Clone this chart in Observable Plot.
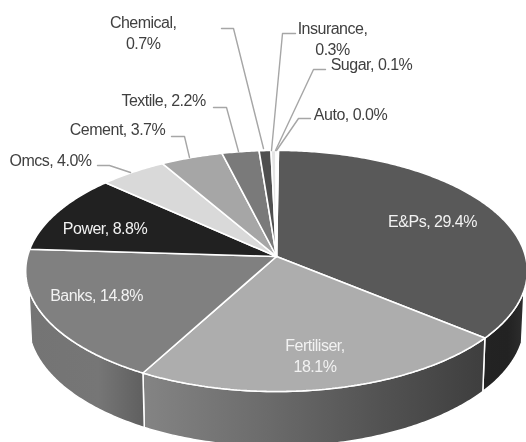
<!DOCTYPE html>
<html>
<head>
<meta charset="utf-8">
<script src="https://cdn.jsdelivr.net/npm/d3@7"></script>
<script src="https://cdn.jsdelivr.net/npm/@observablehq/plot@0.6"></script>
<style>
html,body{margin:0;padding:0;background:#fff;overflow:hidden}
svg{display:block}
</style>
</head>
<body>
<div id="chart"></div>
<script>
// Data
const sectors = ["E&Ps","Fertiliser","Banks","Power","Omcs","Cement","Textile","Chemical","Insurance","Sugar","Auto"];
const shares  = [29.4,18.1,14.8,8.8,4.0,3.7,2.2,0.7,0.3,0.1,0.04];
const tops    = ["#595959","#adadad","#808080","#212121","#d9d9d9","#a6a6a6","#7a7a7a","#4f4f4f","#e4e4e4","#c4c4c4","#e4e4e4"];
const wrapped = new Set(["Fertiliser","Chemical","Insurance"]);

// Layout
const W = 526, H = 442, cx = 276, cy = 256, B = 249, A = 118.8, k = 0.12;
const startDeg = 0.5, silhouetteR = 106, silhouetteL = 254;
const lowS = 0.99, lowT = 1.03, lowD = 51 / A;
const labelX = [432,314.5,96,104.5,50,117,163,142.7,332,371,350];
const labelY = [220,354.5,294,227,159,128,99,31.5,37,63,113];
const inside = new Set(["E&Ps","Fertiliser","Banks","Power"]);
const leaders = {
  Omcs:[[97,165],[109,165],[130,172]],
  Cement:[[171,136],[184,136],[189,157]],
  Textile:[[213,107],[226,107],[238,151]],
  Chemical:[[221,28],[233,28],[263,148]],
  Insurance:[[295,33],[282,33],[271,150]],
  Sugar:[[325,69],[313,69],[275,150]],
  Auto:[[310,118],[298,118],[276,150]]
};
const ux = px => (px - cx) / B, uy = py => (cy - py) / A;

const total = d3.sum(shares);
const proj = (deg) => {
  const r = deg * Math.PI / 180, u = Math.sin(r), v = Math.cos(r), d = 1 + k * v;
  return [u / d, v / d];
};
const low = ([x, y]) => [x * lowS, y * lowT - lowD];

let acc = startDeg;
const slices = sectors.map((name, i) => {
  const a0 = acc, a1 = acc + shares[i] / total * 360;
  acc = a1;
  return {name, value: shares[i], a0, a1, fill: tops[i], i};
});
const arc = (a0, a1) => {
  const n = Math.max(2, Math.ceil((a1 - a0) * 1.5));
  return d3.range(n + 1).map(j => proj(a0 + (a1 - a0) * j / n));
};
const topPts = slices.flatMap(s => {
  const ring = [[0, 0], ...arc(s.a0, s.a1), [0, 0]];
  return ring.map(([x, y]) => ({x, y, z: s.name, fill: s.fill}));
});
const wallPts = slices.flatMap(s => {
  const a0 = Math.max(s.a0, silhouetteR), a1 = Math.min(s.a1, silhouetteL);
  if (a1 <= a0) return [];
  const rim = arc(a0, a1);
  const ring = [...rim, ...rim.slice().reverse().map(low), rim[0]];
  return ring.map(([x, y]) => ({x, y, z: s.name, fill: `url(#wall${s.i})`}));
});
const leaderPts = Object.entries(leaders).flatMap(([z, pts]) =>
  pts.map(([px, py]) => ({x: ux(px), y: uy(py), z})));
const labels = slices.map((s, i) => ({
  x: ux(labelX[i]), y: uy(labelY[i]),
  text: s.name + "," + (wrapped.has(s.name) ? "\n" : " ") + s.value.toFixed(1) + "%",
  inside: inside.has(s.name)
}));

const gradients = {
  0: [[0, "#232323"], [0.6, "#222222"], [1, "#2e2e2e"]],
  1: [[0, "#848484"], [0.35, "#6c6c6c"], [0.7, "#525252"], [1, "#3e3e3e"]],
  2: [[0, "#747474"], [0.6, "#767676"], [1, "#5f5f5f"]]
};
const defs = () => {
  const d = d3.create("svg:defs");
  Object.entries(gradients).forEach(([i, stops]) => {
    const g = d.append("linearGradient").attr("id", "wall" + i)
      .attr("x1", 0).attr("x2", 1).attr("y1", 0).attr("y2", 0);
    stops.forEach(([o, c]) => g.append("stop").attr("offset", o).attr("stop-color", c));
  });
  return d.node();
};

const textOpts = {
  x: "x", y: "y", text: "text",
  fontFamily: "'Liberation Sans', Arial, sans-serif",
  fontSize: 16, lineHeight: 1.3, textAnchor: "middle", lineAnchor: "middle"
};

const chart = Plot.plot({
  width: W, height: H, margin: 0,
  style: {background: "#fff", letterSpacing: "-0.5px", filter: "blur(0.4px)"},
  x: {axis: null, domain: [ux(0), ux(W)], range: [0, W]},
  y: {axis: null, domain: [uy(0), uy(H)], range: [0, H]},
  color: {type: "identity"},
  marks: [
    defs,
    Plot.line(wallPts, {x: "x", y: "y", z: "z", fill: "fill", stroke: "#fff", strokeWidth: 1.5, curve: "linear"}),
    Plot.line(topPts, {x: "x", y: "y", z: "z", fill: "fill", stroke: "#fff", strokeWidth: 1.6, strokeLinejoin: "miter", curve: "linear"}),
    Plot.line(leaderPts, {x: "x", y: "y", z: "z", stroke: "#a6a6a6", strokeWidth: 1.4, curve: "linear"}),
    Plot.text(labels.filter(d => !d.inside), {...textOpts, fill: "#404040"}),
    Plot.text(labels.filter(d => d.inside), {...textOpts, fill: "#f2f2f2"})
  ]
});
document.getElementById("chart").appendChild(chart);
</script>
</body>
</html>
